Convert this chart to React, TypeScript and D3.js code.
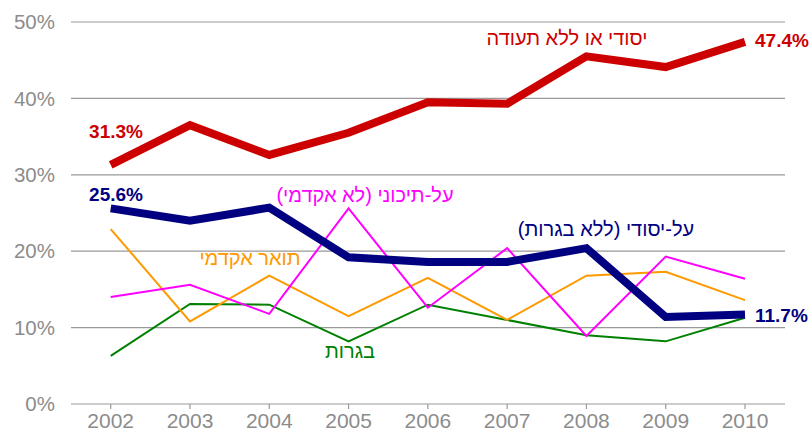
import React, { useEffect } from 'react';
import * as d3 from 'd3';

const years = ['2002', '2003', '2004', '2005', '2006', '2007', '2008', '2009', '2010'];
const yTicks = [0, 10, 20, 30, 40, 50];

const primaryNoCert = [31.3, 36.5, 32.6, 35.5, 39.5, 39.3, 45.5, 44.1, 47.4];
const secondaryNoBagrut = [25.6, 24.0, 25.7, 19.2, 18.6, 18.6, 20.4, 11.4, 11.7];
const postSecondary = [14.0, 15.6, 11.8, 25.6, 12.6, 20.4, 8.9, 19.3, 16.4];
const academic = [22.9, 10.8, 16.8, 11.5, 16.5, 11.0, 16.8, 17.3, 13.6];
const bagrut = [6.3, 13.1, 13.0, 8.2, 13.0, 11.0, 9.0, 8.2, 11.3];

const series = [
  { name: 'בגרות', values: bagrut, color: '#008000', width: 2 },
  { name: 'תואר אקדמי', values: academic, color: '#ff9900', width: 2 },
  { name: 'על-תיכוני (לא אקדמי)', values: postSecondary, color: '#ff00ff', width: 2 },
  { name: 'על-יסודי (ללא בגרות)', values: secondaryNoBagrut, color: '#000080', width: 8 },
  { name: 'יסודי או ללא תעודה', values: primaryNoCert, color: '#cc0000', width: 8 },
];

const FONT = '"Liberation Sans", Arial, sans-serif';

const App: React.FC = () => {
  useEffect(() => {
    document.body.style.margin = '0';
  }, []);

  const width = 811;
  const height = 442;
  const x = d3.scalePoint<string>().domain(years).range([110.7, 745]);
  const y = d3.scaleLinear().domain([0, 50]).range([404, 22]);
  const line = d3.line<number>()
    .x((_, i) => x(years[i]) as number)
    .y(d => y(d));

  const pctLabel = (v: number) => `${v.toFixed(1)}%`;
  const first = (s: number[]) => s[0];
  const last = (s: number[]) => s[s.length - 1];

  return (
    <svg width={width} height={height} style={{ display: 'block', background: '#fff' }}>
      {/* grid */}
      {yTicks.map(t => (
        <g key={t}>
          <line x1={71} x2={785} y1={y(t)} y2={y(t)} stroke="#999" strokeWidth={1.2} />
          <text x={55} y={y(t)} dy="0.35em" textAnchor="end" fontFamily={FONT} fontSize={20.5} fill="#8c8c8c">{t}%</text>
        </g>
      ))}
      {/* x ticks */}
      {years.map(yr => (
        <g key={yr}>
          <line x1={x(yr)} x2={x(yr)} y1={404} y2={409} stroke="#999" strokeWidth={1.2} />
          <text x={x(yr)} y={428} textAnchor="middle" fontFamily={FONT} fontSize={21} fill="#8c8c8c">{yr}</text>
        </g>
      ))}
      {/* lines */}
      {series.map(s => (
        <path key={s.name} d={line(s.values) || ''} fill="none" stroke={s.color} strokeWidth={s.width} strokeLinejoin="miter" />
      ))}
      {/* end labels */}
      <g fontFamily={FONT} fontWeight="bold" fontSize={19}>
        <text x={116} y={131} dy="0.35em" textAnchor="middle" fill="#cc0000">{pctLabel(first(primaryNoCert))}</text>
        <text x={755} y={40} dy="0.35em" textAnchor="start" fill="#cc0000">{pctLabel(last(primaryNoCert))}</text>
        <text x={116} y={194} dy="0.35em" textAnchor="middle" fill="#000080">{pctLabel(first(secondaryNoBagrut))}</text>
        <text x={755} y={315} dy="0.35em" textAnchor="start" fill="#000080">{pctLabel(last(secondaryNoBagrut))}</text>
      </g>
      {/* series names */}
      <g fontFamily={FONT} fontSize={20} textAnchor="middle" direction="rtl">
        <text x={567} y={38} dy="0.35em" fill="#cc0000">{series[4].name}</text>
        <text x={606} y={229} dy="0.35em" fill="#000080">{series[3].name}</text>
        <text x={365} y={195} dy="0.35em" fill="#ff00ff">{series[2].name}</text>
        <text x={250} y={258} dy="0.35em" fill="#ff9900">{series[1].name}</text>
        <text x={350} y={351} dy="0.35em" fill="#008000">{series[0].name}</text>
      </g>
    </svg>
  );
};

export default App;
